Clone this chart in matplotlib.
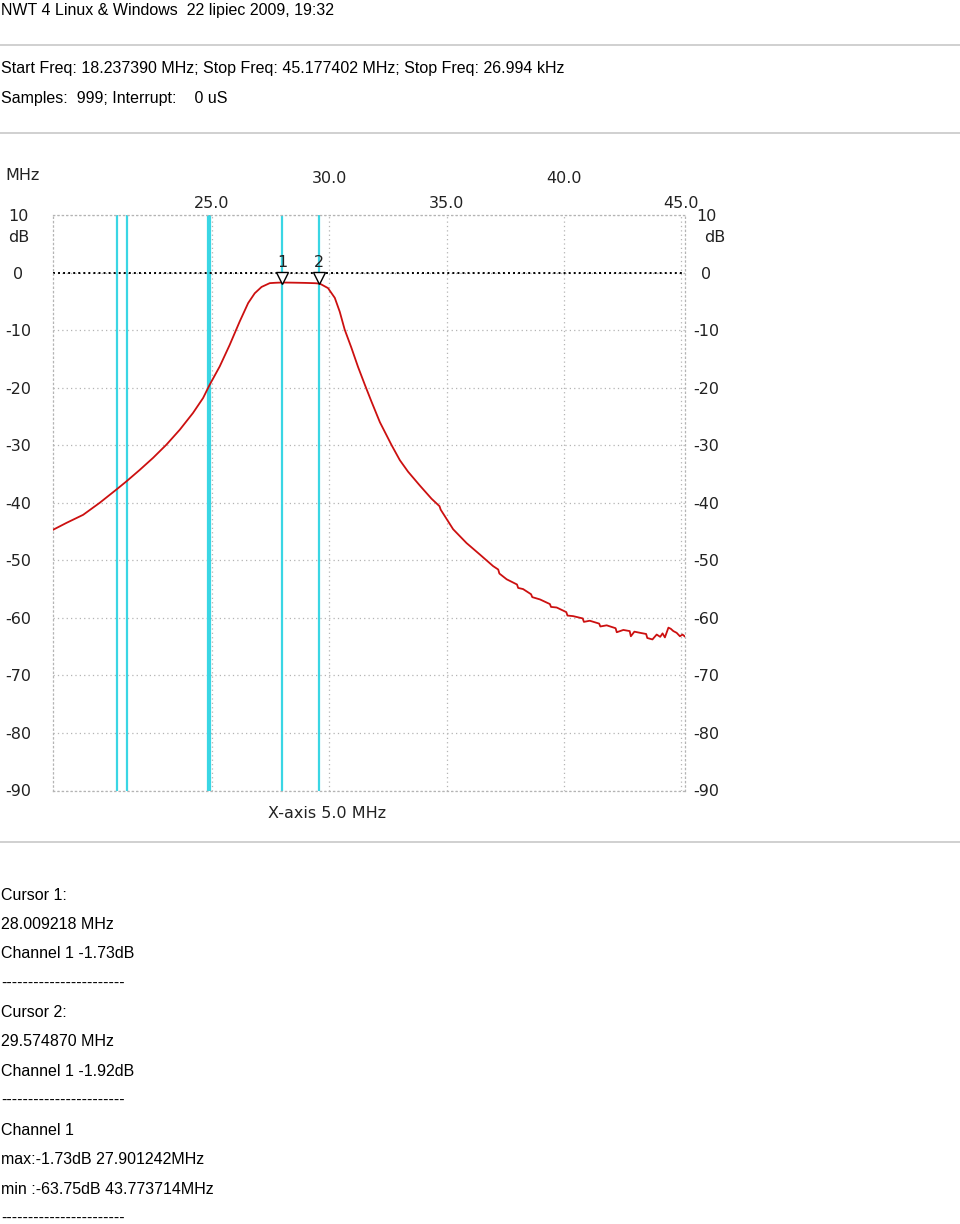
import numpy as np
import matplotlib.pyplot as plt

# sweep (MHz) and response (dB)
freq = [18.24, 18.81, 19.52, 20.23, 20.94, 21.36, 21.93, 22.50, 23.07, 23.64,
        24.20, 24.63, 24.91, 25.34, 25.76, 26.19, 26.55, 26.83, 27.12, 27.47,
        27.70, 28.00, 28.50, 29.00, 29.40, 29.60, 29.95, 30.24, 30.45, 30.66,
        30.95, 31.23, 31.52, 31.80, 32.16, 32.66, 33.01, 33.36, 33.86, 34.36,
        34.70, 34.75, 35.00, 35.28, 35.85, 36.42, 36.98, 37.20, 37.25, 37.56,
        38.00, 38.05, 38.26, 38.60, 38.65, 38.98, 39.40, 39.45, 39.69, 40.10,
        40.15, 40.39, 40.80, 40.85, 41.10, 41.50, 41.55, 41.82, 42.20, 42.25,
        42.53, 42.80, 42.85, 43.00, 43.24, 43.50, 43.55, 43.77, 43.95, 44.10,
        44.20, 44.30, 44.45, 44.55, 44.66, 44.80, 44.94, 45.05, 45.17]
level = [-44.7, -43.5, -42.1, -40.0, -37.7, -36.3, -34.3, -32.2, -29.9, -27.3,
         -24.4, -21.8, -19.5, -16.3, -12.6, -8.5, -5.3, -3.6, -2.5, -1.84,
         -1.78, -1.73, -1.76, -1.80, -1.85, -1.92, -2.7, -4.4, -6.8, -9.9,
         -13.1, -16.4, -19.5, -22.4, -26.0, -30.0, -32.6, -34.6, -37.0, -39.3,
         -40.6, -41.2, -42.8, -44.6, -47.0, -49.0, -51.0, -51.6, -52.3, -53.3,
         -54.2, -54.8, -55.0, -55.9, -56.4, -56.8, -57.6, -58.1, -58.2, -59.0,
         -59.6, -59.7, -60.1, -60.7, -60.5, -61.0, -61.5, -61.3, -61.8, -62.5,
         -62.1, -62.3, -63.2, -62.4, -62.6, -62.8, -63.5, -63.75, -62.9, -63.3,
         -62.7, -63.4, -61.7, -61.9, -62.3, -62.6, -63.2, -62.9, -63.3]

cursors = [28.009218, 29.574870]
markers = [20.96, 21.39, 24.84, 24.93]   # extra cyan markers

x_major = [25.0, 35.0, 45.0]
x_minor = [30.0, 40.0]
y_ticks = [10, 0, -10, -20, -30, -40, -50, -60, -70, -80, -90]

f_start, f_stop = 18.237390, 45.177402

W, H = 960, 1224
fig = plt.figure(figsize=(W / 100, H / 100), dpi=100)
ax = fig.add_axes([53 / W, 1 - 790.5 / H, (685.5 - 53) / W, (790.5 - 215) / H])

cyan = '#3ad6e4'
ink = '#222222'
pfont = dict(fontsize=11.5, family='DejaVu Sans')

for f in markers + cursors:
    ax.axvline(f, color=cyan, lw=1.6, zorder=2)

ax.plot(freq, level, color='#cc1010', lw=1.3, zorder=3)

# 0 dB reference
ax.axhline(0, color='black', ls=(0, (1, 1.6)), lw=1.4, zorder=2)

for i, f in enumerate(cursors):
    ax.plot(f, -0.95, marker='v', ms=9, mfc='white', mec='black', mew=1.0, zorder=5)
    ax.text(f, 0.4, str(i + 1), ha='center', va='bottom', color=ink, zorder=5, **pfont)

ax.set_xlim(f_start, f_stop)
ax.set_ylim(-90, 10)

ax.set_xticks(x_major)
ax.set_xticks(x_minor, minor=True)
ax.set_xticklabels([f'{v:.1f}' for v in x_major], **pfont)
ax.set_xticklabels([f'{v:.1f}' for v in x_minor], minor=True, **pfont)
ax.xaxis.tick_top()
ax.tick_params(axis='x', which='major', length=0, pad=3, colors=ink)
ax.tick_params(axis='x', which='minor', length=0, pad=21, colors=ink)

ax.set_yticks(y_ticks)
ax.set_yticklabels([str(v) for v in y_ticks], **pfont)
ax.tick_params(axis='y', length=0, pad=25, colors=ink)
for t in ax.get_yticklabels():
    t.set_ha('center')

# right-hand dB scale
ax2 = ax.twinx()
ax2.set_ylim(-90, 10)
ax2.set_yticks(y_ticks)
ax2.set_yticklabels([str(v) for v in y_ticks], **pfont)
ax2.tick_params(axis='y', length=0, pad=15, colors=ink)
for t in ax2.get_yticklabels():
    t.set_ha('center')
for s in ax2.spines.values():
    s.set_visible(False)

grid_kw = dict(color='#b4b4b4', ls=(0, (1, 2.5)), lw=0.9)
ax.grid(True, which='both', axis='x', **grid_kw)
ax.grid(True, which='major', axis='y', **grid_kw)
for s in ax.spines.values():
    s.set_color('#b4b4b4')
    s.set_linestyle((0, (1, 2.5)))
    s.set_linewidth(0.9)
ax.set_axisbelow(True)

# plot captions
fig.text(5 / W, 1 - 176 / H, 'MHz', color=ink, ha='left', va='center', **pfont)
fig.text(19 / W, 1 - 238 / H, 'dB', color=ink, ha='center', va='center', **pfont)
fig.text(715 / W, 1 - 238 / H, 'dB', color=ink, ha='center', va='center', **pfont)
fig.text(327 / W, 1 - 813 / H, 'X-axis 5.0 MHz', color=ink, ha='center', va='center', **pfont)

# page text
head = ['NWT 4 Linux & Windows  22 lipiec 2009, 19:32',
        'Start Freq: 18.237390 MHz; Stop Freq: 45.177402 MHz; Stop Freq: 26.994 kHz',
        'Samples:  999; Interrupt:    0 uS']
head_y = [11, 69, 99]
dash = '-' * 23
foot = ['Cursor 1:', '28.009218 MHz', 'Channel 1 -1.73dB', dash,
        'Cursor 2:', '29.574870 MHz', 'Channel 1 -1.92dB', dash,
        'Channel 1', 'max:-1.73dB 27.901242MHz', 'min :-63.75dB 43.773714MHz', dash]

for s, y in zip(head, head_y):
    fig.text(1 / W, 1 - y / H, s, fontsize=11.5, family='Liberation Sans', ha='left',
             va='center', color='black')
for i, s in enumerate(foot):
    y = 895 + i * 29.4
    fig.text(1 / W, 1 - y / H, s, fontsize=11.5, family='Liberation Sans', ha='left',
             va='center', color='black')

for y in [45, 133, 842]:
    fig.add_artist(plt.Line2D([0, 1], [1 - y / H, 1 - y / H], color='#c8c8c8', lw=1.2))

fig.savefig('out.png', dpi=100)
